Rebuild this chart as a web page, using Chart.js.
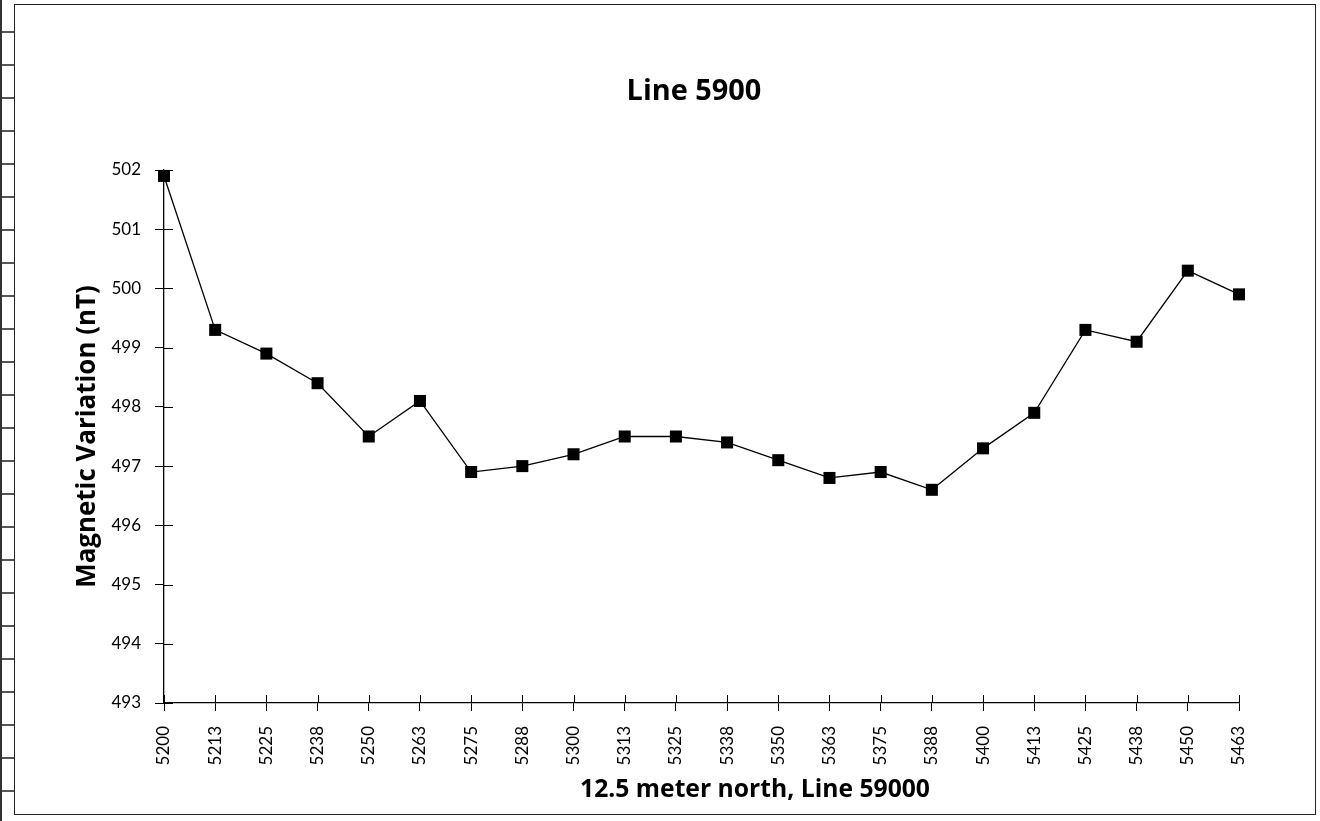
<!DOCTYPE html>
<html>
<head>
<meta charset="utf-8">
<title>Line 5900</title>
<script src="https://cdn.jsdelivr.net/npm/chart.js@4.4.1/dist/chart.umd.min.js"></script>
<style>
  html, body { margin: 0; padding: 0; background: #fff; }
  body { width: 1320px; height: 821px; position: relative; overflow: hidden; }
  /* spreadsheet cell edges peeking out on the left */
  .cells {
    position: absolute; left: 0; top: 0; width: 13px; height: 821px;
    border-left: 2px solid #333;
    background: repeating-linear-gradient(to bottom, transparent 0 31px, #555 31px 33px);
  }
  .frame {
    position: absolute; left: 14px; top: 4px; width: 1300px; height: 809px;
    border: 1.5px solid #222; background: #fff;
  }
  #c { position: absolute; left: 0; top: 0; }
</style>
</head>
<body>
<div class="cells"></div>
<div class="frame"></div>
<canvas id="c" width="1320" height="821"></canvas>
<script>
// Station positions along the line (x axis categories)
const stations = ['5200', '5213', '5225', '5238', '5250', '5263', '5275', '5288', '5300', '5313', '5325',
  '5338', '5350', '5363', '5375', '5388', '5400', '5413', '5425', '5438', '5450', '5463'];

// Magnetic readings in nT
const magneticValues = [501.9, 499.3, 498.9, 498.4, 497.5, 498.1, 496.9, 497.0, 497.2, 497.5, 497.5,
  497.4, 497.1, 496.8, 496.9, 496.6, 497.3, 497.9, 499.3, 499.1, 500.3, 499.9];

// y axis range
const yMin = 493;
const yMax = 502;
const yStep = 1;

const chartTitle = 'Line 5900';
const xTitle = '12.5 meter north, Line 59000';
const yTitle = 'Magnetic Variation (nT)';

const FAMILY = '"Open Sans", Lato, sans-serif';

// Ticks in the original cross the axis line, Chart.js only draws the outer half
const crossTicks = {
  id: 'crossTicks',
  beforeDatasetsDraw(chart) {
    const { ctx, chartArea, scales } = chart;
    ctx.save();
    ctx.strokeStyle = '#000';
    ctx.lineWidth = 1;
    ctx.beginPath();
    scales.x.ticks.forEach((t, i) => {
      const x = Math.round(scales.x.getPixelForTick(i)) + 0.5;
      ctx.moveTo(x, chartArea.bottom);
      ctx.lineTo(x, chartArea.bottom - 8);
    });
    scales.y.ticks.forEach((t, i) => {
      const y = Math.round(scales.y.getPixelForTick(i)) + 0.5;
      ctx.moveTo(chartArea.left, y);
      ctx.lineTo(chartArea.left + 9, y);
    });
    ctx.stroke();
    ctx.restore();
  }
};

// pick a bold size so the text spans about the same width as in the original
function fitFont(ctx, text, width) {
  ctx.font = 'bold 20px ' + FAMILY;
  const size = 20 * width / ctx.measureText(text).width;
  ctx.font = 'bold ' + size.toFixed(1) + 'px ' + FAMILY;
}

// Titles sit off-centre in the original, so place them by hand
const captions = {
  id: 'captions',
  afterDraw(chart) {
    const { ctx, chartArea } = chart;
    ctx.save();
    ctx.fillStyle = '#000';
    ctx.textAlign = 'center';
    ctx.textBaseline = 'alphabetic';

    fitFont(ctx, chartTitle, 135);
    ctx.fillText(chartTitle, chartArea.left + 530, 100);

    fitFont(ctx, xTitle, 350);
    ctx.fillText(xTitle, chartArea.left + 591, 797);

    fitFont(ctx, yTitle, 303);
    ctx.translate(95, (chartArea.top + chartArea.bottom) / 2);
    ctx.rotate(-Math.PI / 2);
    ctx.fillText(yTitle, 0, 0);
    ctx.restore();
  }
};

function draw() {
  new Chart(document.getElementById('c'), {
    type: 'line',
    data: {
      labels: stations,
      datasets: [{
        data: magneticValues,
        borderColor: '#000',
        borderWidth: 1.3,
        pointStyle: 'rect',
        pointRadius: 8.5,
        pointBackgroundColor: '#000',
        pointBorderWidth: 0,
        tension: 0,
        clip: false,
      }],
    },
    options: {
      responsive: false,
      animation: false,
      devicePixelRatio: 1,
      layout: { padding: { top: 170, right: 81, bottom: 0, left: 0 } },
      plugins: {
        legend: { display: false },
        tooltip: { enabled: false },
        title: { display: false },
      },
      scales: {
        x: {
          type: 'category',
          offset: false,
          grid: { drawOnChartArea: false, tickLength: 8, color: '#000', lineWidth: 1 },
          border: { display: true, color: '#000', width: 1.3 },
          ticks: {
            autoSkip: false,
            maxRotation: 90,
            minRotation: 90,
            padding: 15,
            color: '#000',
            font: { family: 'Lato', size: 17 },
          },
          afterFit(scale) { scale.height = 118; },
        },
        y: {
          min: yMin,
          max: yMax,
          grid: { drawOnChartArea: false, tickLength: 9, color: '#000', lineWidth: 1 },
          border: { display: true, color: '#000', width: 1.3 },
          ticks: {
            stepSize: yStep,
            padding: 14,
            color: '#000',
            font: { family: 'Lato', size: 17 },
          },
          afterFit(scale) { scale.width = 164; },
        },
      },
    },
    plugins: [crossTicks, captions],
  });
}

Promise.all([
  document.fonts.load('17px Lato'),
  document.fonts.load('bold 24px "Open Sans"'),
]).then(draw, draw);
</script>
</body>
</html>
